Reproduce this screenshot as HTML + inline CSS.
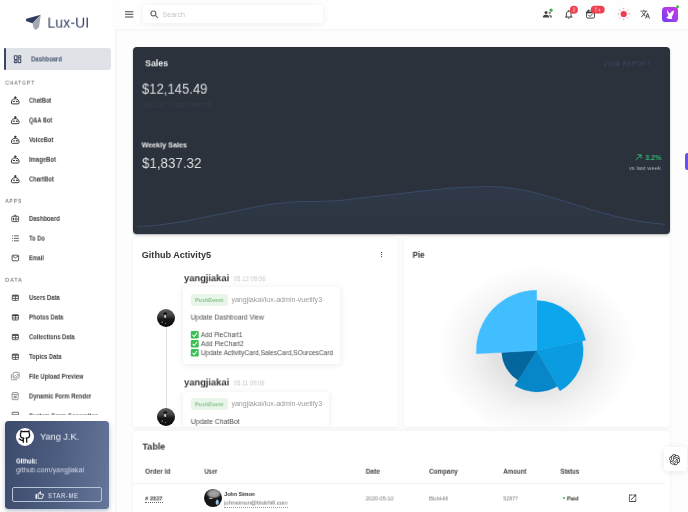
<!DOCTYPE html>
<html>
<head>
<meta charset="utf-8">
<title>Lux-UI</title>
<style>
*{box-sizing:border-box;margin:0;padding:0}
html,body{width:688px;height:512px;overflow:hidden;background:#fdfdfd}
body{font-family:"Liberation Sans",sans-serif;position:relative}
#w{position:absolute;left:0;top:0;width:688px;height:512px;overflow:hidden;will-change:transform;background:#fdfdfd}
.a{position:absolute}
.t{position:absolute;left:0;top:0;white-space:nowrap;transform-origin:0 0;font-family:"Liberation Sans",sans-serif}
.card{position:absolute;background:#fff;border-radius:4px;box-shadow:0 .5px 4px rgba(0,0,0,.055)}
</style>
</head>
<body>
<div id="w">

<!-- sidebar -->
<div class="a" style="left:0;top:0;width:114.5px;height:512px;background:#fff;box-shadow:0.6px 0 0 #eeeff1, 1px 0 4px rgba(0,0,0,.025)"></div>
<div class="a" style="left:3.6px;top:48px;width:107.1px;height:21.6px;background:#dfe3e8;border-radius:1px 3px 3px 1px"></div>
<div class="a" style="left:3.500px;top:48px;width:2.200px;height:21.600px;background:#394665;border-radius:1px"></div>

<!-- bottom sidebar card -->
<div class="a" style="left:5.3px;top:420.8px;width:103.8px;height:88.6px;border-radius:3.5px;background:linear-gradient(97deg,#3c4a6b 0%,#4d5d80 50%,#65769a 100%);box-shadow:0 2px 5px rgba(50,70,110,.35)"></div>
<div class="a" style="left:15.9px;top:427.6px;width:18.3px;height:18.3px;border-radius:50%;background:#fff"></div>
<div class="a" style="left:12.2px;top:486.7px;width:89.5px;height:15.7px;border:1px solid #b9c3d8;border-radius:2px"></div>

<!-- top bar -->
<div class="a" style="left:115px;top:0;width:573px;height:28.8px;background:#fefefe;box-shadow:0 1px 4px rgba(0,0,0,.035)"></div>
<div class="a" style="left:143px;top:5.2px;width:179.5px;height:17.6px;background:#fff;border-radius:3px;box-shadow:0 1px 7px rgba(0,0,0,.07)"></div>
<!-- avatar -->
<div class="a" style="left:662.400px;top:6.800px;width:15.600px;height:15.400px;border-radius:3.600px;background:linear-gradient(225deg,#c934dc 0%,#a93eec 45%,#6a3ef0 100%)"></div>
<!-- purple side tab -->
<div class="a" style="left:684.6px;top:152.8px;width:6px;height:17.4px;border-radius:2.5px;background:#6f4cf0"></div>

<!-- sales card -->
<div class="a" style="left:132.8px;top:46.8px;width:536.9px;height:187.4px;background:#2b323c;border-radius:4px;box-shadow:0 1px 2px rgba(0,0,0,.3)"></div>

<!-- activity card -->
<div class="card" style="left:132.800px;top:238px;width:265.600px;height:188.500px"></div>
<div class="a" style="left:165.700px;top:320px;width:1.400px;height:106.500px;background:#e2e2e2"></div>
<div class="a" style="left:183.4px;top:287.4px;width:157px;height:77px;background:#fff;border-radius:3px;box-shadow:0 1px 7px rgba(0,0,0,.09)"></div>
<div class="a" style="left:183.400px;top:391.600px;width:146px;height:34.900px;background:#fff;border-radius:3px 3px 0 0;box-shadow:0 1px 7px rgba(0,0,0,.09);clip-path:inset(-10px -10px 0 -10px)"></div>
<div class="a" style="left:190.7px;top:294px;width:37.2px;height:11.6px;background:#e9f4ea;border-radius:2px"></div>
<div class="a" style="left:190.7px;top:398.2px;width:37.2px;height:11.6px;background:#e9f4ea;border-radius:2px"></div>
<!-- timeline avatars -->
<div class="a" style="left:157.3px;top:308.5px;width:18px;height:18px;border-radius:50%;background:radial-gradient(ellipse 1.25px 2.1px at 8.2px 7.4px,#d0d0d0 0%,#c4c4c4 55%,rgba(190,190,190,0) 100%),radial-gradient(ellipse 2.3px 1.3px at 8.3px 4.500px,#0c0c0c 0%,#0c0c0c 70%,rgba(12,12,12,0) 100%),radial-gradient(circle 1.1px at 5.2px 13.1px,#a8a8a8,rgba(168,168,168,0)),radial-gradient(circle .9px at 8.600px 14.300px,#909090,rgba(144,144,144,0)),linear-gradient(#5c5c5c 0%,#444 35%,#161616 58%,#0d0d0d 100%)"></div>
<div class="a" style="left:157.4px;top:408.3px;width:18px;height:18px;border-radius:50%;background:radial-gradient(ellipse 1.25px 2.1px at 8.2px 7.4px,#d0d0d0 0%,#c4c4c4 55%,rgba(190,190,190,0) 100%),radial-gradient(ellipse 2.3px 1.3px at 8.3px 4.500px,#0c0c0c 0%,#0c0c0c 70%,rgba(12,12,12,0) 100%),radial-gradient(circle 1.1px at 5.2px 13.1px,#a8a8a8,rgba(168,168,168,0)),radial-gradient(circle .9px at 8.600px 14.300px,#909090,rgba(144,144,144,0)),linear-gradient(#5c5c5c 0%,#444 35%,#161616 58%,#0d0d0d 100%)"></div>

<!-- pie card -->
<div class="card" style="left:404px;top:238px;width:265.700px;height:188.500px"></div>
<div class="a" style="left:430px;top:250px;width:214px;height:177px;background:radial-gradient(ellipse 100px 86px at 107px 101px,rgba(0,0,0,.13) 0%,rgba(0,0,0,.11) 42%,rgba(0,0,0,.04) 72%,rgba(0,0,0,0) 100%)"></div>

<!-- table card -->
<div class="card" style="left:132.800px;top:430.800px;width:537.200px;height:90px"></div>
<div class="a" style="left:133px;top:483.300px;width:532px;height:0.900px;background:#f0f0f0"></div>
<div class="a" style="left:203.9px;top:489.4px;width:17.8px;height:17.8px;border-radius:50%;background:radial-gradient(ellipse 2px 3.300px at 13.2px 13.300px,#a6d2f4 0%,#8cc0ea 55%,rgba(140,192,234,0) 100%),radial-gradient(ellipse 2.800px 1px at 6.800px 9.300px,#f0f0f0 0%,rgba(240,240,240,0) 100%),radial-gradient(ellipse 8px 5.200px at 9.800px 4.600px,#a8a8a8 0%,#959595 60%,rgba(130,130,130,0) 100%),#151515"></div>
<div class="a" style="left:145px;top:501.900px;width:17.500px;height:0;border-top:0.800px dotted #666"></div>
<div class="a" style="left:224.3px;top:506.500px;width:63.300px;height:0;border-top:0.800px dotted #999"></div>
<div class="a" style="left:562.500px;top:497.300px;width:2.100px;height:2.100px;border-radius:50%;background:#3bb54a"></div>

<!-- chatgpt floating -->
<div class="a" style="left:663.900px;top:447.400px;width:23px;height:23.400px;background:#fff;border-radius:4px;box-shadow:0 1px 7px rgba(0,0,0,.09)"></div>

<!-- ICON / CHART OVERLAY (page coordinates) -->
<svg class="a" style="left:0;top:0" width="688" height="512" viewBox="0 0 688 512">
<path d="M26.3,18.700 L40.8,14.800 L32.5,23.200 L26.5,21.300 Q25.2,20 26.3,18.700Z" fill="#2f3c5e"/>
<path d="M40.8,14.800 L39,27.200 L36,29.800 Q35.400,30.100 35,29.500 L33.400,27.600 L32.500,23.200 Z" fill="#a3a9b3"/>
<g fill="none" stroke="#434c64" stroke-width="1.050"><rect x="14.3" y="55.8" width="2.7" height="3.7" rx=".5"/><rect x="14.3" y="60.7" width="2.7" height="1.9" rx=".5"/><rect x="18.1" y="55.8" width="2.7" height="1.9" rx=".5"/><rect x="18.1" y="58.9" width="2.7" height="3.7" rx=".5"/></g>
<g transform="translate(0,100.5)" stroke="#383838" stroke-width="1" fill="none" stroke-linecap="round"><path d="M12.1,3.4 Q11.4,3.4 11.4,2.5 C11.4,-0.5 13,-1.7 15.25,-1.7 C17.5,-1.7 19.1,-0.5 19.1,2.5 Q19.1,3.4 18.4,3.4 Z"/><path d="M15.25,-1.8 V-3.1"/><circle cx="15.25" cy="-3.2" r=".6" fill="#3c3c3c"/><path d="M13.3,0.9 H14.7"/><circle cx="16.8" cy="0.9" r=".35" fill="#3c3c3c"/></g>
<g transform="translate(0,120.3)" stroke="#383838" stroke-width="1" fill="none" stroke-linecap="round"><path d="M12.1,3.4 Q11.4,3.4 11.4,2.5 C11.4,-0.5 13,-1.7 15.25,-1.7 C17.5,-1.7 19.1,-0.5 19.1,2.5 Q19.1,3.4 18.4,3.4 Z"/><path d="M15.25,-1.8 V-3.1"/><circle cx="15.25" cy="-3.2" r=".6" fill="#3c3c3c"/><path d="M13.3,0.9 H14.7"/><circle cx="16.8" cy="0.9" r=".35" fill="#3c3c3c"/></g>
<g transform="translate(0,139.9)" stroke="#383838" stroke-width="1" fill="none" stroke-linecap="round"><path d="M12.1,3.4 Q11.4,3.4 11.4,2.5 C11.4,-0.5 13,-1.7 15.25,-1.7 C17.5,-1.7 19.1,-0.5 19.1,2.5 Q19.1,3.4 18.4,3.4 Z"/><path d="M15.25,-1.8 V-3.1"/><circle cx="15.25" cy="-3.2" r=".6" fill="#3c3c3c"/><path d="M13.3,0.9 H14.7"/><circle cx="16.8" cy="0.9" r=".35" fill="#3c3c3c"/></g>
<g transform="translate(0,159.6)" stroke="#383838" stroke-width="1" fill="none" stroke-linecap="round"><path d="M12.1,3.4 Q11.4,3.4 11.4,2.5 C11.4,-0.5 13,-1.7 15.25,-1.7 C17.5,-1.7 19.1,-0.5 19.1,2.5 Q19.1,3.4 18.4,3.4 Z"/><path d="M15.25,-1.8 V-3.1"/><circle cx="15.25" cy="-3.2" r=".6" fill="#3c3c3c"/><path d="M13.3,0.9 H14.7"/><circle cx="16.8" cy="0.9" r=".35" fill="#3c3c3c"/></g>
<g transform="translate(0,179.3)" stroke="#383838" stroke-width="1" fill="none" stroke-linecap="round"><path d="M12.1,3.4 Q11.4,3.4 11.4,2.5 C11.4,-0.5 13,-1.7 15.25,-1.7 C17.5,-1.7 19.1,-0.5 19.1,2.5 Q19.1,3.4 18.4,3.4 Z"/><path d="M15.25,-1.8 V-3.1"/><circle cx="15.25" cy="-3.2" r=".6" fill="#3c3c3c"/><path d="M13.3,0.9 H14.7"/><circle cx="16.8" cy="0.9" r=".35" fill="#3c3c3c"/></g>
<g transform="translate(0,218.7)" stroke="#3c3c3c" stroke-width="0.85" fill="none" stroke-linejoin="round"><rect x="11.8" y="-2.400" width="6.8" height="5.300" rx=".8"/><path d="M14.100,-2.400 L15.200,-3.900 L16.300,-2.400"/><path d="M13.5,-0.9 V1.6" stroke-width="1"/><rect x="15.2" y="-0.8" width="1.9" height="2.3" rx=".6" stroke-width=".9"/></g>
<g transform="translate(0,238.4)" stroke="#3c3c3c" stroke-width="0.8" fill="none"><path d="M13.9,-2.5 H18.9 M13.9,0 H18.9 M13.9,2.4 H18.9 M12,-2.5 H12.9 M12,0 H12.9 M12,2.4 H12.9"/></g>
<g transform="translate(0,258.1)" stroke="#3c3c3c" stroke-width="0.85" fill="none" stroke-linejoin="round"><rect x="12.1" y="-2.900" width="6.500" height="5.600" rx=".8"/><path d="M12.400,-2.200 L15.350,-0.100 L18.300,-2.200"/></g>
<g transform="translate(0,297.7)" stroke="#3c3c3c" stroke-width="0.8" fill="none"><rect x="12.3" y="-2.600" width="6.100" height="5.300" rx=".7"/><path d="M12.300,-1.800 H18.400" stroke-width="1.300"/><path d="M15.350,-1.500 V2.700 M12.300,0.700 H18.400"/></g>
<g transform="translate(0,317.3)" stroke="#3c3c3c" stroke-width="0.8" fill="none"><rect x="12.3" y="-2.600" width="6.100" height="5.300" rx=".7"/><path d="M12.300,-1.800 H18.400" stroke-width="1.300"/><path d="M15.350,-1.500 V2.700 M12.300,0.700 H18.400"/></g>
<g transform="translate(0,337)" stroke="#3c3c3c" stroke-width="0.8" fill="none"><rect x="12.3" y="-2.600" width="6.100" height="5.300" rx=".7"/><path d="M12.300,-1.800 H18.400" stroke-width="1.300"/><path d="M15.350,-1.500 V2.700 M12.300,0.700 H18.400"/></g>
<g transform="translate(0,356.7)" stroke="#3c3c3c" stroke-width="0.8" fill="none"><rect x="12.3" y="-2.600" width="6.100" height="5.300" rx=".7"/><path d="M12.300,-1.800 H18.400" stroke-width="1.300"/><path d="M15.350,-1.500 V2.700 M12.300,0.700 H18.400"/></g>
<g transform="translate(0,376.6)" stroke="#7d7d7d" stroke-width="0.8" fill="none"><rect x="13.1" y="-4.3" width="6.1" height="5.7" rx="1"/><path d="M11.4,-2.4 V2.2 Q11.4,3.2 12.4,3.2 H17.2"/><path d="M13.4,0.6 L15.3,-1.2 L16.6,0 L19,-1.6" stroke-width=".7"/><circle cx="17.2" cy="-2.2" r=".5" fill="#555" stroke="none"/></g>
<g transform="translate(0,396.3)" stroke="#7d7d7d" stroke-width="0.8" fill="none"><rect x="12.1" y="-3.7" width="6.1" height="7.1" rx=".9"/><path d="M12.1,-1.9 H18.2"/><rect x="13.6" y="-0.6" width="3.1" height="2.6" fill="#999" stroke="none"/></g>
<rect x="12.2" y="412.300" width="6.400" height="2.500" rx=".5" stroke="#4a4a4a" stroke-width="0.850" fill="none"/>
<g transform="translate(18.100,429.700) scale(0.575)" fill="none" stroke="#111" stroke-width="2.200" stroke-linecap="round" stroke-linejoin="round"><path d="M15 22v-4a4.8 4.8 0 0 0-1-3.5c3 0 6-2 6-5.5.08-1.25-.27-2.48-1-3.5.28-1.15.28-2.35 0-3.5 0 0-1 0-3 1.5-2.64-.5-5.36-.5-8 0C6 2 5 2 5 2c-.3 1.15-.3 2.35 0 3.5A5.403 5.403 0 0 0 4 9c0 3.5 3 5.5 6 5.500-.39.49-.68 1.050-.85 1.650-.17.600-.22 1.230-.15 1.850v4"/><path d="M9 18c-4.51 2-5-2-7-2"/></g>
<g transform="translate(35.200,490.900) scale(0.370)" fill="#eef1f6" stroke="#eef1f6" stroke-width=".5"><path d="M5,9V21H1V9H5M9,21A2,2 0 0,1 7,19V9C7,8.45 7.22,7.95 7.59,7.59L14.17,1L15.23,2.06C15.5,2.33 15.67,2.7 15.67,3.11L15.64,3.43L14.69,8H21C22.11,8 23,8.9 23,10V12C23,12.26 22.95,12.5 22.86,12.73L19.84,19.78C19.54,20.5 18.83,21 18,21H9M9,19H18.030L21,12V10H12.21L13.34,4.68L9,9.03V19Z"/></g>
<path d="M125,11.7 H133.3 M125,14.3 H133.3 M125,16.9 H133.3" stroke="#444" stroke-width="1.05"/>
<g stroke="#6a6a6a" stroke-width="1.15" fill="none" stroke-linecap="round"><circle cx="153.4" cy="13.4" r="2.45"/><path d="M155.3,15.4 L157.7,17.6"/></g>
<g fill="#444"><circle cx="546" cy="12.4" r="1.5"/><path d="M542.8,17.6 C542.8,15.2 544.4,14.7 546,14.7 C547.6,14.7 549.2,15.2 549.2,17.6 Z"/></g><g fill="#777"><circle cx="549.7" cy="12.8" r="1.15"/><path d="M549.9,17.6 C549.9,16.2 549.6,15.4 549,14.9 C550.7,14.6 552.1,15.4 552.1,17.6 Z"/></g>
<circle cx="551.1" cy="10.2" r="1.6" fill="#3db24b"/>
<g stroke="#333" stroke-width="0.9" fill="none" stroke-linecap="round" stroke-linejoin="round"><path d="M565.5,17 H572 M566.4,17 V14.1 C566.4,12.4 567.4,11.2 568.75,11.2 C570.1,11.2 571.1,12.4 571.1,14.1 V17"/><path d="M568.1,18.2 Q568.75,18.9 569.4,18.2"/><path d="M568.75,10.4 V11.2"/></g>
<circle cx="573.9" cy="9.8" r="4" fill="#f0404f"/>
<g stroke="#333" stroke-width="0.9" fill="none" stroke-linecap="round" stroke-linejoin="round"><rect x="586.6" y="11" width="7.9" height="7.1" rx="1.3"/><path d="M586.6,12.6 H594.5" stroke-width="1.3"/><path d="M588.6,9.9 V11.3 M592.5,9.9 V11.3"/><path d="M588.8,15.3 L590,16.5 L592.4,14.1"/></g>
<rect x="590.8" y="5.7" width="13.9" height="7.8" rx="3.9" fill="#f0404f"/>
<circle cx="623.7" cy="14" r="3.1" fill="#ee3d50"/><path d="M628.60,14.00 L629.50,14.00 M627.16,17.46 L627.80,18.10 M623.70,18.90 L623.70,19.80 M620.24,17.46 L619.60,18.10 M618.80,14.00 L617.90,14.00 M620.24,10.54 L619.60,9.90 M623.70,9.10 L623.70,8.20 M627.16,10.54 L627.80,9.90 " stroke="#f38591" stroke-width="0.85" stroke-linecap="round"/>
<g transform="translate(639.86,8.92) scale(0.44)" fill="#444"><path d="M12.87,15.07L10.33,12.56L10.36,12.53C12.1,10.59 13.34,8.36 14.07,6H17V4H10V2H8V4H1V6H12.17C11.5,7.92 10.44,9.75 9,11.35C8.07,10.32 7.3,9.19 6.69,8H4.69C5.42,9.63 6.42,11.17 7.67,12.56L2.58,17.58L4,19L9,14L12.11,17.11L12.87,15.07M18.5,10H16.5L12,22H14L15.12,19H19.87L21,22H23L18.5,10M15.88,17L17.5,12.67L19.12,17H15.880Z"/></g>
<path d="M667.1,9.3 C667.6,11.100 668.6,12.500 670,13.500 C671,12.100 672.3,11.100 673.9,10.600 C673.9,13.100 673,15.400 671.7,16.900 L672.3,18.800 C670.5,19.300 668,18.900 666.2,17.400 C667.2,17.100 668,16.500 668.4,15.700 C667.4,13.900 667,11.600 667.1,9.300 Z" fill="#fff"/>
<circle cx="677.5" cy="6.700" r="1.500" fill="#3db24b"/>
<defs><linearGradient id="cg" x1="0" y1="0" x2="0" y2="1"><stop offset="0" stop-color="#34435a" stop-opacity=".42"/><stop offset="1" stop-color="#303b4b" stop-opacity=".3"/></linearGradient><clipPath id="cc"><rect x="132.8" y="46.8" width="536.9" height="187.4" rx="4"/></clipPath></defs>
<g clip-path="url(#cc)"><path d="M136.9,226.5 C140.3,226.3 149.6,226.1 157.6,225.2 C165.6,224.3 176.0,222.6 185.2,221 C194.4,219.4 203.6,217.3 212.8,215.5 C222.0,213.7 231.3,211.8 240.5,210 C249.7,208.2 258.8,206.0 268,204.7 C277.2,203.3 287.9,202.4 295.7,201.9 C303.5,201.4 308.0,201.6 315,201.4 C322.0,201.2 329.2,201.3 337.6,200.7 C346.0,200.0 356.0,198.5 365.2,197.5 C374.4,196.5 383.6,195.6 392.8,194.5 C402.0,193.4 411.3,192.2 420.5,191.2 C429.7,190.2 438.8,189.1 448,188.4 C457.2,187.7 468.7,187.1 475.7,186.8 C482.7,186.5 484.9,186.5 490,186.6 C495.1,186.7 500.2,186.8 506.6,187.6 C513.1,188.4 520.0,189.2 528.7,191.2 C537.4,193.2 549.3,196.7 559,199.5 C568.7,202.3 577.5,205.6 586.7,208.3 C595.9,211.1 605.1,213.8 614.3,216 C623.5,218.2 633.5,220.2 641.9,221.6 C650.3,223.0 660.7,223.9 664.5,224.3 L664.5,234.2 L136.9,234.2 Z" fill="url(#cg)"/><path d="M136.9,226.5 C140.3,226.3 149.6,226.1 157.6,225.2 C165.6,224.3 176.0,222.6 185.2,221 C194.4,219.4 203.6,217.3 212.8,215.5 C222.0,213.7 231.3,211.8 240.5,210 C249.7,208.2 258.8,206.0 268,204.7 C277.2,203.3 287.9,202.4 295.7,201.9 C303.5,201.4 308.0,201.6 315,201.4 C322.0,201.2 329.2,201.3 337.6,200.7 C346.0,200.0 356.0,198.5 365.2,197.5 C374.4,196.5 383.6,195.6 392.8,194.5 C402.0,193.4 411.3,192.2 420.5,191.2 C429.7,190.2 438.8,189.1 448,188.4 C457.2,187.7 468.7,187.1 475.7,186.8 C482.7,186.5 484.9,186.5 490,186.6 C495.1,186.7 500.2,186.8 506.6,187.6 C513.1,188.4 520.0,189.2 528.7,191.2 C537.4,193.2 549.3,196.7 559,199.5 C568.7,202.3 577.5,205.6 586.7,208.3 C595.9,211.1 605.1,213.8 614.3,216 C623.5,218.2 633.5,220.2 641.9,221.6 C650.3,223.0 660.7,223.9 664.5,224.3" fill="none" stroke="#3b4d6e" stroke-width="0.9"/></g>
<path d="M635.7,160.100 L641.1,154.800 M637.4,154.800 H641.1 V158.500" stroke="#2fb874" stroke-width="1" fill="none"/>
<g fill="#444"><circle cx="381.6" cy="252.4" r=".6"/><circle cx="381.6" cy="254.500" r=".6"/><circle cx="381.6" cy="256.600" r=".6"/></g>
<rect x="190.8" y="330.9" width="7.9" height="7.5" rx="1.2" fill="#3bbf52"/><path d="M192.500,334.8 L194.200,336.5 L197.100,332.8" stroke="#fff" stroke-width="1.050" fill="none"/>
<rect x="190.8" y="339.9" width="7.9" height="7.5" rx="1.2" fill="#3bbf52"/><path d="M192.500,343.8 L194.200,345.5 L197.100,341.8" stroke="#fff" stroke-width="1.050" fill="none"/>
<rect x="190.8" y="348.9" width="7.9" height="7.5" rx="1.2" fill="#3bbf52"/><path d="M192.500,352.8 L194.200,354.5 L197.100,350.8" stroke="#fff" stroke-width="1.050" fill="none"/>
<path d="M536.7,350.6 L536.70,300.60 A50,50 0 0 1 585.61,340.20 Z" fill="#0ca6ec" stroke="#0ca6ec" stroke-width="0.35"/>
<path d="M536.7,350.6 L582.18,340.93 A46.5,46.5 0 0 1 559.95,390.87 Z" fill="#0a9be0" stroke="#0a9be0" stroke-width="0.35"/>
<path d="M536.7,350.6 L557.35,386.37 A41.3,41.3 0 0 1 514.81,385.62 Z" fill="#0786c8" stroke="#0786c8" stroke-width="0.35"/>
<path d="M536.7,350.6 L518.15,380.28 A35,35 0 0 1 501.75,352.43 Z" fill="#04669c" stroke="#04669c" stroke-width="0.35"/>
<path d="M536.7,350.6 L476.48,353.76 A60.3,60.3 0 0 1 536.70,290.30 Z" fill="#40beff" stroke="#40beff" stroke-width="0.35"/>
<g transform="translate(627.7,493.400) scale(0.405)" fill="#444"><path d="M14,3V5H17.59L7.76,14.83L9.17,16.24L19,6.41V10H21V3M19,19H5V5H12V3H5C3.89,3 3,3.9 3,5V19A2,2 0 0,0 5,21H19A2,2 0 0,0 21,19V12H19V19Z"/></g>
<g transform="translate(669.2,454.300) scale(0.458)" fill="#222"><path d="M22.2819 9.8211a5.9847 5.9847 0 0 0-.5157-4.9108 6.0462 6.0462 0 0 0-6.5098-2.9A6.0651 6.0651 0 0 0 4.9807 4.1818a5.9847 5.9847 0 0 0-3.9977 2.9 6.0462 6.0462 0 0 0 .7427 7.0966 5.98 5.98 0 0 0 .511 4.9107 6.051 6.051 0 0 0 6.5146 2.9001A5.9847 5.9847 0 0 0 13.2599 24a6.0557 6.0557 0 0 0 5.7718-4.2058 5.9894 5.9894 0 0 0 3.9977-2.9001 6.0557 6.0557 0 0 0-.7475-7.0729zm-9.022 12.6081a4.4755 4.4755 0 0 1-2.8764-1.0408l.1419-.0804 4.7783-2.7582a.7948.7948 0 0 0 .3927-.6813v-6.7369l2.02 1.1686a.071.071 0 0 1 .038.052v5.5826a4.504 4.504 0 0 1-4.4945 4.4944zm-9.6607-4.1254a4.4708 4.4708 0 0 1-.5346-3.0137l.142.0852 4.783 2.7582a.7712.7712 0 0 0 .7806 0l5.8428-3.3685v2.3324a.0804.0804 0 0 1-.0332.0615L9.74 19.9502a4.4992 4.4992 0 0 1-6.1408-1.6464zM2.3408 7.8956a4.485 4.485 0 0 1 2.3655-1.9728V11.6a.7664.7664 0 0 0 .3879.6765l5.8144 3.3543-2.0201 1.1685a.0757.0757 0 0 1-.071 0l-4.8303-2.7865A4.504 4.504 0 0 1 2.3408 7.872zm16.5963 3.8558L13.1038 8.364 15.1192 7.2a.0757.0757 0 0 1 .071 0l4.8303 2.7913a4.4944 4.4944 0 0 1-.6765 8.1042v-5.6772a.79.79 0 0 0-.407-.667zm2.0107-3.0231l-.142-.0852-4.7735-2.7818a.7759.7759 0 0 0-.7854 0L9.409 9.2297V6.8974a.0662.0662 0 0 1 .0284-.0615l4.8303-2.7866a4.4992 4.4992 0 0 1 6.6802 4.66zM8.3065 12.863l-2.02-1.1638a.0804.0804 0 0 1-.038-.0567V6.0742a4.4992 4.4992 0 0 1 7.3757-3.4537l-.142.0805L8.704 5.459a.7948.7948 0 0 0-.3927.6813zm1.0976-2.3654l2.602-1.4998 2.6069 1.4998v2.9994l-2.5974 1.4997-2.6067-1.4997Z"/></g>
</svg>

<div class="t" style="font-size:14px;line-height:14px;color:#2f3c5e;transform:translate3d(47.40px,15.60px,0) scaleX(0.990);letter-spacing:0.2px">Lux-UI</div>
<div class="t" style="font-size:6.6px;line-height:6.6px;color:#46516e;transform:translate3d(31.10px,56.40px,0) scaleX(0.894);font-weight:bold">Dashboard</div>
<div class="t" style="font-size:5.8px;line-height:5.8px;color:#585858;transform:translate3d(5.30px,80.60px,0) scaleX(0.871);letter-spacing:1.0px">CHATGPT</div>
<div class="t" style="font-size:6.5px;line-height:6.5px;color:#3c3c3c;transform:translate3d(29.00px,97.70px,0) scaleX(0.882);font-weight:bold">ChatBot</div>
<div class="t" style="font-size:6.5px;line-height:6.5px;color:#3c3c3c;transform:translate3d(29.00px,117.50px,0) scaleX(0.864);font-weight:bold">Q&amp;A Bot</div>
<div class="t" style="font-size:6.5px;line-height:6.5px;color:#3c3c3c;transform:translate3d(29.00px,137.10px,0) scaleX(0.877);font-weight:bold">VoiceBot</div>
<div class="t" style="font-size:6.5px;line-height:6.5px;color:#3c3c3c;transform:translate3d(29.00px,156.80px,0) scaleX(0.908);font-weight:bold">ImageBot</div>
<div class="t" style="font-size:6.5px;line-height:6.5px;color:#3c3c3c;transform:translate3d(29.00px,176.50px,0) scaleX(0.892);font-weight:bold">ChartBot</div>
<div class="t" style="font-size:5.8px;line-height:5.8px;color:#585858;transform:translate3d(5.30px,198.80px,0) scaleX(0.872);letter-spacing:1.0px">APPS</div>
<div class="t" style="font-size:6.5px;line-height:6.5px;color:#3c3c3c;transform:translate3d(29.00px,215.90px,0) scaleX(0.907);font-weight:bold">Dashboard</div>
<div class="t" style="font-size:6.5px;line-height:6.5px;color:#3c3c3c;transform:translate3d(29.00px,235.60px,0) scaleX(0.881);font-weight:bold">To Do</div>
<div class="t" style="font-size:6.5px;line-height:6.5px;color:#3c3c3c;transform:translate3d(29.00px,255.30px,0) scaleX(0.859);font-weight:bold">Email</div>
<div class="t" style="font-size:5.8px;line-height:5.8px;color:#585858;transform:translate3d(5.30px,277.80px,0) scaleX(0.926);letter-spacing:1.0px">DATA</div>
<div class="t" style="font-size:6.5px;line-height:6.5px;color:#3c3c3c;transform:translate3d(29.00px,294.90px,0) scaleX(0.907);font-weight:bold">Users Data</div>
<div class="t" style="font-size:6.5px;line-height:6.5px;color:#3c3c3c;transform:translate3d(29.00px,314.50px,0) scaleX(0.904);font-weight:bold">Photos Data</div>
<div class="t" style="font-size:6.5px;line-height:6.5px;color:#3c3c3c;transform:translate3d(29.00px,334.20px,0) scaleX(0.897);font-weight:bold">Collections Data</div>
<div class="t" style="font-size:6.5px;line-height:6.5px;color:#3c3c3c;transform:translate3d(29.00px,353.90px,0) scaleX(0.894);font-weight:bold">Topics Data</div>
<div class="t" style="font-size:6.5px;line-height:6.5px;color:#3c3c3c;transform:translate3d(29.00px,373.80px,0) scaleX(0.887);font-weight:bold">File Upload Preview</div>
<div class="t" style="font-size:6.5px;line-height:6.5px;color:#3c3c3c;transform:translate3d(29.00px,393.50px,0) scaleX(0.900);font-weight:bold">Dynamic Form Render</div>
<div class="t" style="font-size:6.5px;line-height:6.5px;color:#3c3c3c;transform:translate3d(29.00px,413.40px,0) scaleX(0.898);font-weight:bold">System Form Generation</div>
<div class="t" style="font-size:9.8px;line-height:9.8px;color:#f1f3f8;transform:translate3d(40.00px,431.70px,0) scaleX(0.939)">Yang J.K.</div>
<div class="t" style="font-size:7.2px;line-height:7.2px;color:#ffffff;transform:translate3d(16.00px,457.50px,0) scaleX(0.842);font-weight:bold">Github:</div>
<div class="t" style="font-size:7.3px;line-height:7.3px;color:#d3dae8;transform:translate3d(16.00px,466.30px,0) scaleX(0.969)">github.com/yangjiakai</div>
<div class="t" style="font-size:7px;line-height:7px;color:#eef1f6;transform:translate3d(48.00px,492.10px,0) scaleX(0.838);letter-spacing:0.8px">STAR-ME</div>
<div class="t" style="font-size:7px;line-height:7px;color:#c6c6c6;transform:translate3d(162.60px,10.90px,0) scaleX(1.005)">Search</div>
<div class="t" style="font-size:4.8px;line-height:4.8px;color:#ffffff;transform:translate3d(572.80px,8.50px,0) scaleX(0.861)">2</div>
<div class="t" style="font-size:4.8px;line-height:4.8px;color:#ffffff;transform:translate3d(594.60px,8.50px,0) scaleX(0.881)">7 +</div>
<div class="t" style="font-size:8.9px;line-height:8.9px;color:#ececec;transform:translate3d(145.10px,59.30px,0) scaleX(0.991);font-weight:bold">Sales</div>
<div class="t" style="font-size:15px;line-height:15px;color:#dcdcdc;transform:translate3d(141.90px,80.70px,0) scaleX(0.872)">$12,145.49</div>
<div class="t" style="font-size:7px;line-height:7px;color:#363e4b;transform:translate3d(142.00px,100.80px,0) scaleX(1.171)">$10,173 last month</div>
<div class="t" style="font-size:7.3px;line-height:7.3px;color:#ececec;transform:translate3d(141.60px,141.40px,0) scaleX(0.984);font-weight:bold">Weekly Sales</div>
<div class="t" style="font-size:15px;line-height:15px;color:#dcdcdc;transform:translate3d(142.00px,155.00px,0) scaleX(0.889)">$1,837.32</div>
<div class="t" style="font-size:6.5px;line-height:6.5px;color:#3e4a66;transform:translate3d(603.30px,61.10px,0) scaleX(0.871);letter-spacing:0.8px">VIEW REPORT</div>
<div class="t" style="font-size:7px;line-height:7px;color:#2fb874;transform:translate3d(645.40px,154.00px,0) scaleX(0.996);font-weight:bold">3.2%</div>
<div class="t" style="font-size:5.8px;line-height:5.8px;color:#a8abb0;transform:translate3d(628.90px,166.00px,0) scaleX(1.017)">vs last week</div>
<div class="t" style="font-size:8.6px;line-height:8.6px;color:#333333;transform:translate3d(141.80px,251.00px,0) scaleX(1.055);font-weight:bold">Github Activity5</div>
<div class="t" style="font-size:9.8px;line-height:9.8px;color:#333333;transform:translate3d(184.00px,273.20px,0) scaleX(0.952);font-weight:bold">yangjiakai</div>
<div class="t" style="font-size:6.8px;line-height:6.8px;color:#c6c6c6;transform:translate3d(233.80px,276.20px,0) scaleX(0.880)">05.12 09:06</div>
<div class="t" style="font-size:5.8px;line-height:5.8px;color:#84c58b;transform:translate3d(195.00px,298.00px,0) scaleX(0.944);font-weight:bold">PushEvent</div>
<div class="t" style="font-size:7px;line-height:7px;color:#9a9a9a;transform:translate3d(231.40px,296.20px,0) scaleX(1.009)">yangjiakai/lux-admin-vuetify3</div>
<div class="t" style="font-size:7px;line-height:7px;color:#4a4a4a;transform:translate3d(190.70px,313.60px,0) scaleX(0.967)">Update Dashboard View</div>
<div class="t" style="font-size:7px;line-height:7px;color:#4a4a4a;transform:translate3d(200.90px,331.10px,0) scaleX(0.911)">Add PieChart1</div>
<div class="t" style="font-size:7px;line-height:7px;color:#4a4a4a;transform:translate3d(200.90px,340.10px,0) scaleX(0.938)">Add PieChart2</div>
<div class="t" style="font-size:7px;line-height:7px;color:#4a4a4a;transform:translate3d(200.90px,349.10px,0) scaleX(0.941)">Update ActivityCard,SalesCard,SOurcesCard</div>
<div class="t" style="font-size:9.8px;line-height:9.8px;color:#333333;transform:translate3d(184.00px,377.40px,0) scaleX(0.952);font-weight:bold">yangjiakai</div>
<div class="t" style="font-size:6.8px;line-height:6.8px;color:#c6c6c6;transform:translate3d(233.80px,380.40px,0) scaleX(0.870)">05.11 09:06</div>
<div class="t" style="font-size:5.8px;line-height:5.8px;color:#84c58b;transform:translate3d(195.00px,402.20px,0) scaleX(0.944);font-weight:bold">PushEvent</div>
<div class="t" style="font-size:7px;line-height:7px;color:#9a9a9a;transform:translate3d(231.40px,400.40px,0) scaleX(1.009)">yangjiakai/lux-admin-vuetify3</div>
<div class="t" style="font-size:7px;line-height:7px;color:#4a4a4a;transform:translate3d(190.80px,417.90px,0) scaleX(0.980)">Update ChatBot</div>
<div class="t" style="font-size:8.6px;line-height:8.6px;color:#333333;transform:translate3d(412.60px,250.80px,0) scaleX(0.930);font-weight:bold">Pie</div>
<div class="t" style="font-size:9.5px;line-height:9.5px;color:#333333;transform:translate3d(142.40px,441.60px,0) scaleX(0.946);font-weight:bold">Table</div>
<div class="t" style="font-size:7px;line-height:7px;color:#444444;transform:translate3d(145.00px,467.70px,0) scaleX(0.933);font-weight:bold">Order Id</div>
<div class="t" style="font-size:7px;line-height:7px;color:#444444;transform:translate3d(204.40px,467.70px,0) scaleX(0.841);font-weight:bold">User</div>
<div class="t" style="font-size:7px;line-height:7px;color:#444444;transform:translate3d(365.70px,467.70px,0) scaleX(0.948);font-weight:bold">Date</div>
<div class="t" style="font-size:7px;line-height:7px;color:#444444;transform:translate3d(429.00px,467.70px,0) scaleX(0.903);font-weight:bold">Company</div>
<div class="t" style="font-size:7px;line-height:7px;color:#444444;transform:translate3d(503.30px,467.70px,0) scaleX(0.881);font-weight:bold">Amount</div>
<div class="t" style="font-size:7px;line-height:7px;color:#444444;transform:translate3d(560.30px,467.70px,0) scaleX(0.883);font-weight:bold">Status</div>
<div class="t" style="font-size:6px;line-height:6px;color:#444444;transform:translate3d(145.00px,495.40px,0) scaleX(0.953);font-weight:bold"># 2837</div>
<div class="t" style="font-size:5.9px;line-height:5.9px;color:#333333;transform:translate3d(224.30px,492.00px,0) scaleX(0.908);font-weight:bold">John Simon</div>
<div class="t" style="font-size:6.1px;line-height:6.1px;color:#686868;transform:translate3d(224.30px,499.60px,0) scaleX(0.957)">johnsimon@blobhill.com</div>
<div class="t" style="font-size:6px;line-height:6px;color:#7a7a7a;transform:translate3d(365.70px,495.40px,0) scaleX(0.912)">2020-05-10</div>
<div class="t" style="font-size:6px;line-height:6px;color:#7a7a7a;transform:translate3d(429.00px,495.40px,0) scaleX(0.929)">BlobHill</div>
<div class="t" style="font-size:6px;line-height:6px;color:#7a7a7a;transform:translate3d(503.30px,495.40px,0) scaleX(0.881)">52877</div>
<div class="t" style="font-size:6px;line-height:6px;color:#333333;transform:translate3d(566.90px,495.40px,0) scaleX(0.923);font-weight:bold">Paid</div>
<!-- clip for partially hidden sidebar item -->
<div class="a" style="left:0;top:415.200px;width:114px;height:5.400px;background:#fff"></div>
</div>
</body>
</html>
